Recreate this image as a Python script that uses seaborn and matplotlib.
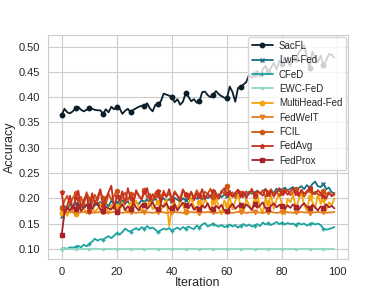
import numpy as np
import pandas as pd
import matplotlib
matplotlib.use('Agg')
import matplotlib.pyplot as plt
import seaborn as sns

# Data (100 iterations)
iterations = list(range(100))

sacfl = [0.365, 0.377, 0.370, 0.368, 0.372, 0.378, 0.381, 0.375, 0.372, 0.375,
         0.378, 0.377, 0.375, 0.374, 0.374, 0.367, 0.376, 0.370, 0.381, 0.376,
         0.381, 0.378, 0.367, 0.373, 0.377, 0.370, 0.375, 0.378, 0.381, 0.383,
         0.382, 0.388, 0.378, 0.372, 0.385, 0.386, 0.392, 0.407, 0.405, 0.403,
         0.400, 0.390, 0.396, 0.385, 0.391, 0.408, 0.401, 0.392, 0.396, 0.389,
         0.392, 0.410, 0.411, 0.404, 0.400, 0.405, 0.412, 0.406, 0.402, 0.399,
         0.398, 0.421, 0.410, 0.391, 0.418, 0.421, 0.425, 0.430, 0.444, 0.438,
         0.446, 0.452, 0.440, 0.455, 0.462, 0.450, 0.458, 0.468, 0.455, 0.472,
         0.465, 0.478, 0.470, 0.462, 0.480, 0.475, 0.488, 0.495, 0.503, 0.480,
         0.458, 0.490, 0.478, 0.470, 0.482, 0.464, 0.472, 0.485, 0.484, 0.478]

lwf_fed = [0.165, 0.185, 0.178, 0.188, 0.182, 0.190, 0.184, 0.187, 0.180, 0.186,
           0.189, 0.183, 0.191, 0.186, 0.193, 0.185, 0.190, 0.184, 0.195, 0.188,
           0.192, 0.187, 0.196, 0.190, 0.194, 0.186, 0.197, 0.191, 0.189, 0.196,
           0.193, 0.198, 0.190, 0.195, 0.199, 0.192, 0.196, 0.200, 0.194, 0.198,
           0.195, 0.201, 0.197, 0.193, 0.200, 0.196, 0.202, 0.198, 0.204, 0.199,
           0.203, 0.197, 0.205, 0.200, 0.206, 0.201, 0.204, 0.208, 0.202, 0.207,
           0.205, 0.210, 0.203, 0.208, 0.212, 0.206, 0.210, 0.207, 0.213, 0.209,
           0.211, 0.215, 0.209, 0.214, 0.218, 0.212, 0.216, 0.210, 0.219, 0.214,
           0.217, 0.221, 0.215, 0.219, 0.222, 0.216, 0.220, 0.224, 0.218, 0.226,
           0.221, 0.228, 0.233, 0.224, 0.222, 0.229, 0.218, 0.221, 0.212, 0.210]

cfed = [0.100, 0.101, 0.100, 0.103, 0.102, 0.104, 0.106, 0.103, 0.108, 0.105,
        0.110, 0.114, 0.120, 0.116, 0.119, 0.118, 0.122, 0.125, 0.121, 0.126,
        0.131, 0.128, 0.133, 0.140, 0.136, 0.134, 0.138, 0.141, 0.137, 0.143,
        0.139, 0.145, 0.140, 0.142, 0.138, 0.133, 0.137, 0.140, 0.138, 0.141,
        0.136, 0.139, 0.142, 0.138, 0.143, 0.140, 0.144, 0.141, 0.139, 0.146,
        0.142, 0.148, 0.151, 0.144, 0.147, 0.150, 0.146, 0.144, 0.147, 0.143,
        0.145, 0.148, 0.144, 0.147, 0.142, 0.146, 0.149, 0.145, 0.148, 0.144,
        0.146, 0.149, 0.145, 0.152, 0.148, 0.151, 0.147, 0.150, 0.153, 0.149,
        0.152, 0.148, 0.151, 0.149, 0.150, 0.147, 0.151, 0.148, 0.150, 0.146,
        0.149, 0.151, 0.148, 0.150, 0.147, 0.140, 0.138, 0.139, 0.141, 0.143]

ewc_fed = [0.100, 0.100, 0.100, 0.100, 0.100, 0.100, 0.100, 0.100, 0.100, 0.100,
           0.100, 0.100, 0.100, 0.100, 0.100, 0.100, 0.100, 0.100, 0.100, 0.100,
           0.100, 0.100, 0.100, 0.100, 0.100, 0.100, 0.100, 0.100, 0.100, 0.100,
           0.100, 0.100, 0.100, 0.100, 0.100, 0.100, 0.100, 0.100, 0.100, 0.100,
           0.100, 0.100, 0.100, 0.100, 0.100, 0.100, 0.100, 0.100, 0.100, 0.100,
           0.100, 0.100, 0.100, 0.100, 0.100, 0.100, 0.100, 0.100, 0.100, 0.100,
           0.100, 0.100, 0.100, 0.100, 0.100, 0.100, 0.100, 0.100, 0.100, 0.100,
           0.100, 0.100, 0.100, 0.100, 0.100, 0.100, 0.100, 0.100, 0.100, 0.100,
           0.100, 0.100, 0.100, 0.100, 0.100, 0.100, 0.100, 0.100, 0.100, 0.100,
           0.100, 0.100, 0.100, 0.100, 0.100, 0.100, 0.100, 0.100, 0.100, 0.100]

multihead_fed = [0.170, 0.178, 0.165, 0.182, 0.172, 0.168, 0.185, 0.175, 0.180, 0.170,
                 0.176, 0.186, 0.172, 0.179, 0.190, 0.174, 0.183, 0.169, 0.187, 0.178,
                 0.184, 0.175, 0.192, 0.180, 0.171, 0.188, 0.179, 0.195, 0.183, 0.174,
                 0.189, 0.181, 0.196, 0.178, 0.185, 0.193, 0.176, 0.187, 0.198, 0.145,
                 0.182, 0.191, 0.178, 0.195, 0.186, 0.173, 0.190, 0.201, 0.184, 0.176,
                 0.193, 0.182, 0.199, 0.187, 0.175, 0.192, 0.205, 0.181, 0.168, 0.196,
                 0.186, 0.203, 0.178, 0.194, 0.207, 0.183, 0.172, 0.198, 0.188, 0.176,
                 0.195, 0.209, 0.182, 0.170, 0.201, 0.190, 0.206, 0.179, 0.197, 0.210,
                 0.185, 0.168, 0.199, 0.192, 0.207, 0.181, 0.196, 0.211, 0.187, 0.175,
                 0.202, 0.193, 0.180, 0.208, 0.189, 0.198, 0.176, 0.192, 0.186, 0.200]

fedweit = [0.180, 0.175, 0.173, 0.172, 0.173, 0.172, 0.171, 0.172, 0.173, 0.172,
           0.172, 0.171, 0.172, 0.172, 0.173, 0.172, 0.171, 0.172, 0.172, 0.173,
           0.172, 0.172, 0.171, 0.172, 0.173, 0.172, 0.172, 0.171, 0.172, 0.172,
           0.173, 0.172, 0.172, 0.171, 0.172, 0.172, 0.173, 0.172, 0.171, 0.172,
           0.172, 0.173, 0.172, 0.172, 0.171, 0.172, 0.172, 0.173, 0.172, 0.172,
           0.171, 0.172, 0.172, 0.173, 0.172, 0.172, 0.171, 0.172, 0.172, 0.173,
           0.172, 0.172, 0.171, 0.172, 0.173, 0.172, 0.172, 0.171, 0.172, 0.172,
           0.173, 0.172, 0.172, 0.171, 0.172, 0.172, 0.173, 0.172, 0.171, 0.172,
           0.172, 0.173, 0.172, 0.172, 0.171, 0.172, 0.172, 0.173, 0.172, 0.172,
           0.171, 0.172, 0.172, 0.173, 0.172, 0.172, 0.171, 0.172, 0.172, 0.173]

fcil = [0.180, 0.195, 0.205, 0.188, 0.200, 0.210, 0.192, 0.203, 0.185, 0.212,
        0.198, 0.190, 0.207, 0.195, 0.214, 0.200, 0.188, 0.209, 0.197, 0.205,
        0.215, 0.193, 0.202, 0.211, 0.196, 0.208, 0.190, 0.213, 0.204, 0.198,
        0.216, 0.201, 0.209, 0.194, 0.212, 0.206, 0.199, 0.215, 0.203, 0.210,
        0.196, 0.214, 0.205, 0.200, 0.218, 0.207, 0.198, 0.212, 0.202, 0.216,
        0.206, 0.199, 0.213, 0.208, 0.219, 0.203, 0.211, 0.200, 0.215, 0.209,
        0.224, 0.206, 0.212, 0.201, 0.217, 0.210, 0.204, 0.214, 0.208, 0.219,
        0.205, 0.213, 0.209, 0.216, 0.202, 0.211, 0.218, 0.207, 0.213, 0.204,
        0.215, 0.210, 0.217, 0.206, 0.212, 0.219, 0.208, 0.214, 0.203, 0.211,
        0.216, 0.207, 0.213, 0.209, 0.205, 0.214, 0.208, 0.212, 0.206, 0.210]

fedavg = [0.212, 0.170, 0.185, 0.205, 0.178, 0.200, 0.215, 0.182, 0.196, 0.208,
          0.175, 0.210, 0.190, 0.202, 0.218, 0.185, 0.200, 0.212, 0.225, 0.180,
          0.205, 0.195, 0.214, 0.188, 0.220, 0.200, 0.192, 0.216, 0.205, 0.198,
          0.212, 0.220, 0.195, 0.208, 0.200, 0.215, 0.190, 0.210, 0.203, 0.218,
          0.197, 0.211, 0.205, 0.194, 0.215, 0.208, 0.200, 0.213, 0.196, 0.210,
          0.204, 0.218, 0.198, 0.209, 0.202, 0.214, 0.206, 0.199, 0.212, 0.220,
          0.208, 0.215, 0.203, 0.211, 0.217, 0.206, 0.213, 0.200, 0.210, 0.216,
          0.207, 0.214, 0.211, 0.205, 0.218, 0.209, 0.215, 0.203, 0.212, 0.220,
          0.210, 0.216, 0.207, 0.213, 0.219, 0.211, 0.204, 0.217, 0.209, 0.214,
          0.221, 0.212, 0.208, 0.216, 0.210, 0.205, 0.199, 0.211, 0.204, 0.207]

fedprox = [0.128, 0.172, 0.180, 0.176, 0.185, 0.178, 0.190, 0.175, 0.182, 0.188,
           0.184, 0.179, 0.186, 0.192, 0.177, 0.175, 0.183, 0.180, 0.178, 0.186,
           0.172, 0.181, 0.188, 0.176, 0.184, 0.178, 0.190, 0.182, 0.176, 0.187,
           0.186, 0.179, 0.185, 0.192, 0.180, 0.178, 0.187, 0.183, 0.190, 0.179,
           0.181, 0.188, 0.176, 0.184, 0.191, 0.186, 0.180, 0.189, 0.177, 0.183,
           0.179, 0.186, 0.181, 0.190, 0.178, 0.178, 0.185, 0.180, 0.187, 0.176,
           0.174, 0.182, 0.189, 0.179, 0.185, 0.186, 0.180, 0.188, 0.183, 0.177,
           0.189, 0.181, 0.186, 0.192, 0.180, 0.178, 0.185, 0.190, 0.182, 0.187,
           0.184, 0.179, 0.186, 0.181, 0.188, 0.182, 0.177, 0.185, 0.190, 0.183,
           0.180, 0.187, 0.182, 0.176, 0.184, 0.180, 0.188, 0.182, 0.185, 0.180]

methods = ['SacFL', 'LwF-Fed', 'CFeD', 'EWC-FeD', 'MultiHead-Fed',
           'FedWeIT', 'FCIL', 'FedAvg', 'FedProx']
series = [sacfl, lwf_fed, cfed, ewc_fed, multihead_fed,
          fedweit, fcil, fedavg, fedprox]

colors = ['#0d1e2b', '#1b6f84', '#1ea39e', '#8ed8c5', '#f5a40c',
          '#e5801f', '#cc5410', '#c52f22', '#a6232b']
markers = ['o', 'x', '+', '.', 'o', 'v', 'h', '*', 's']
msizes = [3.2, 3.5, 3.5, 3, 3.2, 3.2, 3.2, 3.5, 3.2]

sns.set_style('whitegrid')
plt.rcParams['font.family'] = ['Liberation Sans', 'DejaVu Sans']

fig = plt.figure(figsize=(3.88, 2.91), dpi=100)
ax = fig.add_axes([0.124, 0.110, 0.773, 0.770])

for name, vals, c, m, ms in zip(methods, series, colors, markers, msizes):
    sns.lineplot(x=iterations, y=vals, ax=ax, label=name, color=c,
                 linestyle='-', marker=m, markevery=5, markersize=ms,
                 markeredgewidth=1, markeredgecolor=c, markerfacecolor=c,
                 linewidth=1.3)

ax.set_xlabel('Iteration', fontsize=9, labelpad=0)
ax.set_ylabel('Accuracy', fontsize=9, labelpad=2)
ax.tick_params(labelsize=8, pad=2)
ax.set_xticks([0, 20, 40, 60, 80, 100])
ax.set_yticks([0.10, 0.15, 0.20, 0.25, 0.30, 0.35, 0.40, 0.45, 0.50])
ax.set_yticklabels(['0.10', '0.15', '0.20', '0.25', '0.30', '0.35', '0.40', '0.45', '0.50'])
ax.legend(loc='upper right', fontsize=7, labelspacing=0.45, handlelength=2.2,
          borderpad=0.4, handletextpad=0.6, borderaxespad=0.2)

plt.savefig('out.png', dpi=100)
